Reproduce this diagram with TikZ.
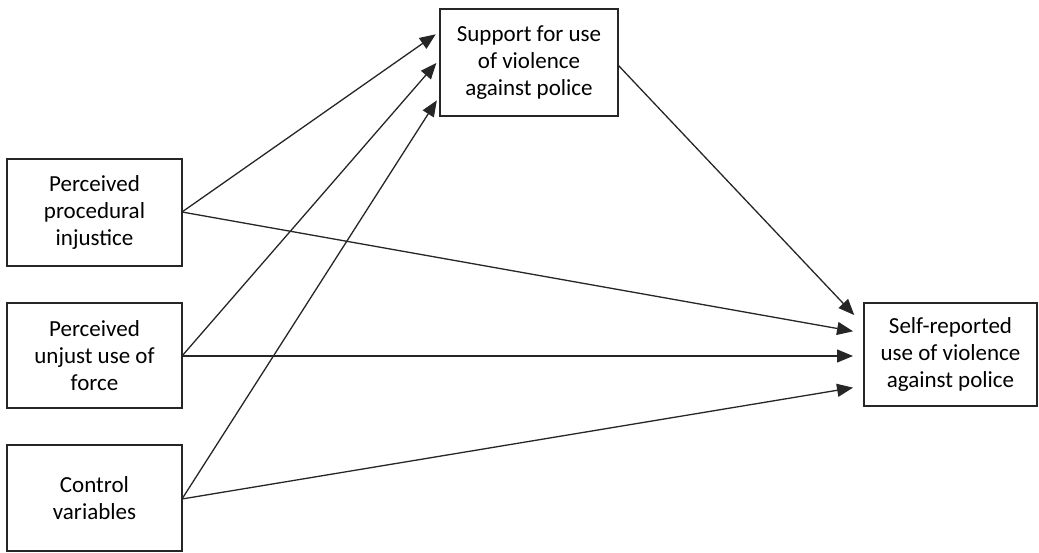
\documentclass[tikz,border=0pt]{standalone}
\usepackage{fontspec}
\setmainfont{Carlito}
\usetikzlibrary{arrows.meta,calc}
\begin{document}
\begin{tikzpicture}[x=1pt,y=-1pt,
  box/.style={draw=black!85,line width=1.8pt,rectangle,align=center,inner sep=0pt,
    font=\fontsize{23}{27}\selectfont},
  conn/.style={draw=black!85,line width=1.3pt,-{Triangle[length=16pt,width=13pt]},shorten >=4pt}]
\useasboundingbox (0,0) rectangle (1039,553);
\node[box,minimum width=175pt,minimum height=107pt] (p1) at (94.5,212.5) {Perceived\\procedural\\injustice};
\node[box,minimum width=175pt,minimum height=105pt] (p2) at (94.5,355.5) {Perceived\\unjust use of\\force};
\node[box,minimum width=175pt,minimum height=106pt] (p3) at (94.5,498) {Control\\variables};
\node[box,minimum width=178pt,minimum height=107pt] (top) at (529,62.5) {Support for use\\of violence\\against police};
\node[box,minimum width=173pt,minimum height=103pt] (out) at (950.5,354.5) {Self-reported\\use of violence\\against police};
\coordinate (o1) at (182,212);
\coordinate (o2) at (182,356);
\coordinate (o3) at (182,499);
\coordinate (ot) at (618,65);
\coordinate (t1) at (439,32);
\coordinate (t2) at (439,60);
\coordinate (t3) at (439,97);
\coordinate (r0) at (857,318);
\coordinate (r1) at (857,332);
\coordinate (r2) at (857,356);
\coordinate (r3) at (857,387);
\draw[conn] (o1) -- (t1);
\draw[conn] (o2) -- (t2);
\draw[conn] (o3) -- (t3);
\draw[conn] (ot) -- (r0);
\draw[conn] (o1) -- (r1);
\draw[conn] (o2) -- (r2);
\draw[conn] (o3) -- (r3);
\end{tikzpicture}
\end{document}
